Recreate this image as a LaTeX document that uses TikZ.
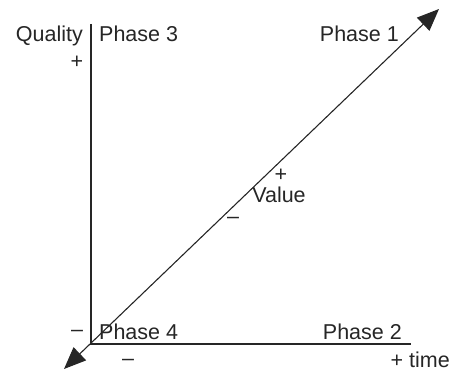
\documentclass[tikz,border=0pt]{standalone}
\usepackage{fontspec}
\setmainfont{Liberation Sans}
\usetikzlibrary{arrows.meta}
\begin{document}
\begin{tikzpicture}[x=1pt,y=-1pt,
  lbl/.style={inner sep=0pt,font=\fontsize{21.5}{25}\selectfont,text=black!85},
  axis/.style={line width=1.3pt,black!85},
  diag/.style={line width=1.1pt,black!85,{Triangle[length=22pt,width=18pt]}-{Triangle[length=22pt,width=18pt]}}]
\useasboundingbox (0,0) rectangle (454,371);
\coordinate (o) at (91,344);
\coordinate (ytop) at (91,24);
\coordinate (xend) at (411,344);
\coordinate (dlo) at (64,369);
\coordinate (dhi) at (439,9);
\draw[axis] (ytop) -- (o) -- (xend);
\draw[diag] (dlo) -- (dhi);
\node[lbl,anchor=base east] (q) at (83,42) {Quality};
\node[lbl,anchor=base west] (p3) at (99,42) {Phase 3};
\node[lbl] (qp) at (77,62) {+};
\node[lbl,anchor=base east] (p1) at (399,42) {Phase 1};
\node[lbl] (vp) at (281,175) {+};
\node[lbl] (v) at (279,195) {Value};
\node[lbl] (vm) at (233,220) {--};
\node[lbl] (qm) at (77,333) {--};
\node[lbl,anchor=base west] (p4) at (99,339) {Phase 4};
\node[lbl,anchor=base east] (p2) at (402,339) {Phase 2};
\node[lbl] (tm) at (128,362) {--};
\node[lbl,anchor=base east] (t) at (450,367) {+ time};
\end{tikzpicture}
\end{document}
